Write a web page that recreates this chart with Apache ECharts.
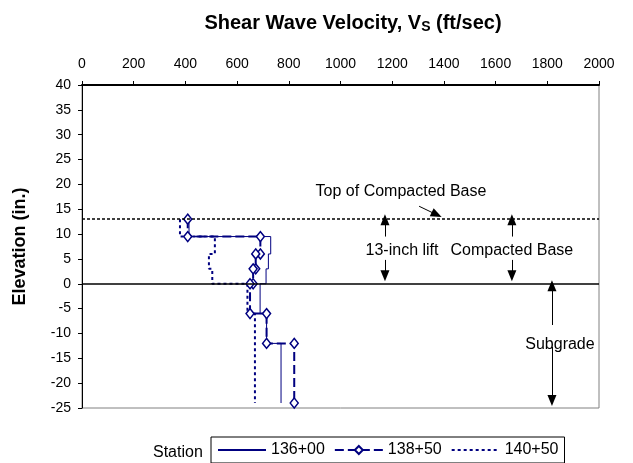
<!DOCTYPE html>
<html>
<head>
<meta charset="utf-8">
<script src="https://cdn.jsdelivr.net/npm/echarts@6/dist/echarts.min.js"></script>
<style>html,body{margin:0;padding:0;background:#fff}#c{width:633px;height:463px}</style>
</head>
<body>
<div id="c"></div>
<script>
// Velocity (ft/sec) / elevation (in.) step profiles
const st13600V = [414, 414, 730, 730, 721, 721, 712, 712, 689, 689, 714, 714, 770, 770];
const st13600E = [13, 9.5, 9.5, 6, 6, 3, 3, 0, 0, -6, -6, -12, -12, -24];
const st13850V = [409, 409, 690, 690, 672, 672, 662, 662, 650, 650, 714, 714, 821, 821];
const st13850E = [13, 9.5, 9.5, 6, 6, 3, 3, 0, 0, -6, -6, -12, -12, -24];
const st14050V = [379, 379, 514, 514, 491, 491, 504, 504, 640, 640, 669, 669];
const st14050E = [13, 9.5, 9.5, 6, 6, 3, 3, 0, 0, -6, -6, -24];
const stationNames = ['136+00', '138+50', '140+50'];
const xTicks = [0, 2000, 200];
const yTicks = [-25, 40, 5];
const topOfBase = 13;
const subgradeTop = 0;

const pair = (v, e) => v.map((x, i) => [x, e[i]]);
const navy = '#000080';
const FONT = 'Liberation Sans, Arial, sans-serif';

const arrow = (x1, y1, x2, y2) => [{ coord: [x1, y1] }, { coord: [x2, y2] }];
const note = (text, x, y) => ({ coord: [x, y], value: text });

const chart = echarts.init(document.getElementById('c'));
chart.setOption({
  animation: false,
  textStyle: { fontFamily: FONT },
  title: {
    text: 'Shear Wave Velocity, V{s|S} (ft/sec)',
    left: 348, textAlign: 'center', top: 7,
    textStyle: {
      fontFamily: FONT, fontSize: 20, fontWeight: 'bold', color: '#000',
      rich: { s: { fontFamily: FONT, fontSize: 14, fontWeight: 'bold', color: '#000', verticalAlign: 'bottom', padding: [8, 0, 0, 0] } }
    }
  },
  grid: { left: 82, right: 34, top: 85, bottom: 55, show: true, borderColor: '#808080', borderWidth: 1 },
  xAxis: {
    type: 'value', position: 'top', min: xTicks[0], max: xTicks[1], interval: xTicks[2],
    axisLine: { show: true, onZero: false, lineStyle: { color: '#000', width: 2 } },
    axisTick: { show: true, inside: false, length: 4, lineStyle: { color: '#000' } },
    axisLabel: { color: '#000', fontSize: 14, fontFamily: FONT, margin: 14, formatter: v => String(v) },
    splitLine: { show: false }
  },
  yAxis: {
    type: 'value', min: yTicks[0], max: yTicks[1], interval: yTicks[2],
    name: 'Elevation (in.)', nameLocation: 'middle', nameRotate: 90, nameGap: 53,
    nameTextStyle: { color: '#000', fontSize: 18, fontWeight: 'bold', fontFamily: FONT },
    axisLine: { show: true, onZero: false, lineStyle: { color: '#000', width: 1 } },
    axisTick: { show: true, length: 4, lineStyle: { color: '#000' } },
    axisLabel: { color: '#000', fontSize: 14, fontFamily: FONT, margin: 11 },
    splitLine: { show: false }
  },
  legend: {
    data: stationNames,
    left: 211, top: 437, orient: 'horizontal',
    padding: [5, 6, 5, 6], itemGap: 9, itemWidth: 48, itemHeight: 10,
    borderColor: '#000', borderWidth: 1,
    textStyle: { color: '#000', fontSize: 16, fontFamily: FONT }
  },
  graphic: [{
    type: 'text', left: 153, top: 445,
    style: { text: 'Station', fill: '#000', font: '16px ' + FONT }
  }],
  series: [
    {
      name: stationNames[0], type: 'line', data: pair(st13600V, st13600E),
      showSymbol: false, symbol: 'none', lineStyle: { color: navy, width: 1 }, itemStyle: { color: 'rgba(0,0,0,0)' },
      z: 3,
      markLine: {
        silent: true, symbol: ['none', 'none'], label: { show: false },
        data: [
          { yAxis: topOfBase, lineStyle: { color: '#000', width: 1.5, type: [3, 2] } },
          { yAxis: subgradeTop, lineStyle: { color: '#000', width: 1.5, type: 'solid' } }
        ]
      },
      markPoint: {
        silent: true, symbol: 'circle', symbolSize: 0,
        itemStyle: { color: 'rgba(0,0,0,0)' },
        label: { show: true, position: 'inside', color: '#000', fontSize: 16, fontFamily: FONT, formatter: p => p.value },
        data: [
          note('Top of Compacted Base', 1234, 18.5),
          note('13-inch lift', 1238, 6.7),
          note('Compacted Base', 1663, 6.7),
          note('Subgrade', 1849, -12.3)
        ]
      }
    },
    {
      name: stationNames[1], type: 'line', data: pair(st13850V, st13850E),
      symbol: 'diamond', symbolSize: [8, 10], showSymbol: true,
      lineStyle: { color: navy, width: 2, type: [9, 4] },
      itemStyle: { color: '#fff', borderColor: navy, borderWidth: 1.5 },
      z: 4,
      markLine: {
        silent: true, symbol: ['none', 'triangle'], symbolSize: [9, 11], label: { show: false },
        lineStyle: { color: '#000', width: 1, type: 'solid' },
        data: [
          arrow(1304, 15.6, 1372, 13.9),
          arrow(1172, 9.5, 1172, 12.9),
          arrow(1172, 4.8, 1172, 1.6),
          arrow(1663, 9.5, 1663, 12.9),
          arrow(1663, 4.8, 1663, 1.6),
          arrow(1818, -8.3, 1818, -0.4),
          arrow(1818, -12.7, 1818, -23.5)
        ]
      }
    },
    {
      name: stationNames[2], type: 'line', data: pair(st14050V, st14050E),
      showSymbol: false, symbol: 'none',
      lineStyle: { color: navy, width: 2, type: [3, 3] }, itemStyle: { color: 'rgba(0,0,0,0)' },
      z: 3
    }
  ]
});
</script>
</body>
</html>
